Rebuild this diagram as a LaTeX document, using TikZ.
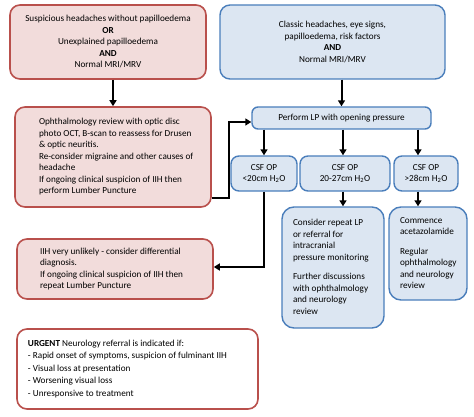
\documentclass[tikz,border=0pt]{standalone}
\usepackage{fontspec}
\setmainfont{Carlito}
\usetikzlibrary{arrows.meta,calc}
\definecolor{redfill}{HTML}{F2DCDB}
\definecolor{redline}{HTML}{B9504C}
\definecolor{bluefill}{HTML}{DCE6F2}
\definecolor{blueline}{HTML}{4A7EBB}
\newcommand{\leftblock}[3]{\makebox[#1][l]{\hspace*{#2}\begin{tabular}{@{}l@{}}#3\end{tabular}}}
\begin{document}
\begin{tikzpicture}[x=1pt,y=-1pt,
 every node/.style={font=\fontsize{9.2}{11.5}\selectfont, inner sep=0pt},
 redbox/.style={draw=redline, fill=redfill, line width=1.6pt, rounded corners=10pt},
 bluebox/.style={draw=blueline, fill=bluefill, line width=1.4pt, rounded corners=8pt},
 urgbox/.style={draw=redline, fill=white, line width=1.6pt, rounded corners=10pt},
 arr/.style={line width=2pt, -{Triangle[length=6pt,width=7pt]}},
]
\useasboundingbox (0,0) rectangle (474,417);

\node[redbox, minimum width=196pt, minimum height=74pt, align=center] (r1) at (108,42)
 {Suspicious headaches without papilloedema\\ \textbf{OR}\\ Unexplained papilloedema\\ \textbf{AND}\\ Normal MRI/MRV};

\node[bluebox, rounded corners=10pt, minimum width=225pt, minimum height=74pt, align=center] (b1) at (332.5,42)
 {Classic headaches, eye signs,\\ papilloedema, risk factors\\ \textbf{AND}\\ Normal MRI/MRV};

\node[redbox, minimum width=196pt, minimum height=100pt] (r2) at (113,157)
 {\leftblock{190pt}{21pt}{Ophthalmology review with optic disc\\ photo OCT, B-scan to reassess for Drusen\\ \& optic neuritis.\\ Re-consider migraine and other causes of\\ headache\\ If ongoing clinical suspicion of IIH then\\ perform Lumber Puncture}};

\node[bluebox, rounded corners=6pt, minimum width=179pt, minimum height=22pt] (lp) at (341.5,118)
 {Perform LP with opening pressure};

\node[bluebox, minimum width=66pt, minimum height=35pt, align=center] (ca) at (264,173.5)
 {CSF OP\\ <20cm H\textsubscript{2}O};
\node[bluebox, minimum width=90pt, minimum height=35pt, align=center] (cb) at (345,173.5)
 {CSF OP\\ 20-27cm H\textsubscript{2}O};
\node[bluebox, minimum width=64pt, minimum height=35pt, align=center] (cc) at (426,173.5)
 {CSF OP\\ >28cm H\textsubscript{2}O};

\node[bluebox, rounded corners=12pt, minimum width=102pt, minimum height=121pt] (d) at (333,267.5)
 {\leftblock{100pt}{10pt}{Consider repeat LP\\ or referral for\\ intracranial\\ pressure monitoring\\[8pt] Further discussions\\ with ophthalmology\\ and neurology\\ review}};

\node[bluebox, rounded corners=12pt, minimum width=78pt, minimum height=93pt] (e) at (428,253.5)
 {\leftblock{76pt}{10pt}{Commence\\ acetazolamide\\[8pt] Regular\\ ophthalmology\\ and neurology\\ review}};

\node[redbox, minimum width=196pt, minimum height=60pt] (r3) at (115,269)
 {\leftblock{190pt}{20pt}{IIH very unlikely - consider differential\\ diagnosis.\\ If ongoing clinical suspicion of IIH then\\ repeat Lumber Puncture}};

\node[urgbox, minimum width=241pt, minimum height=80pt] (u) at (137.5,369)
 {\leftblock{230pt}{5.5pt}{\textbf{URGENT} Neurology referral is indicated if:\\[1pt] - Rapid onset of symptoms, suspicion of fulminant IIH\\[1pt] - Visual loss at presentation\\[1pt] - Worsening visual loss\\[1pt] - Unresponsive to treatment}};

\draw[arr] (r2.north |- r1.south) -- (r2.north);
\draw[arr] (lp.north |- b1.south) -- (lp.north);
\draw[arr] ([yshift=10pt]r2.south east) -- ++(17,0) |- ([yshift=-4pt]lp.west);
\draw[arr] (ca.north |- lp.south) -- (ca.north);
\draw[arr] ([xshift=-2pt]cb.north |- lp.south) -- ([xshift=-2pt]cb.north);
\draw[arr] ([xshift=-8pt]cc.north |- lp.south) -- ([xshift=-8pt]cc.north);
\draw[arr] ([xshift=-2pt]cb.south) -- ([xshift=-2pt]cb.south |- d.north);
\draw[arr] ([xshift=-8pt]cc.south) -- ([xshift=-8pt]cc.south |- e.north);
\draw[arr] (ca.south) |- ([yshift=2pt]r3.east);
\end{tikzpicture}
\end{document}
